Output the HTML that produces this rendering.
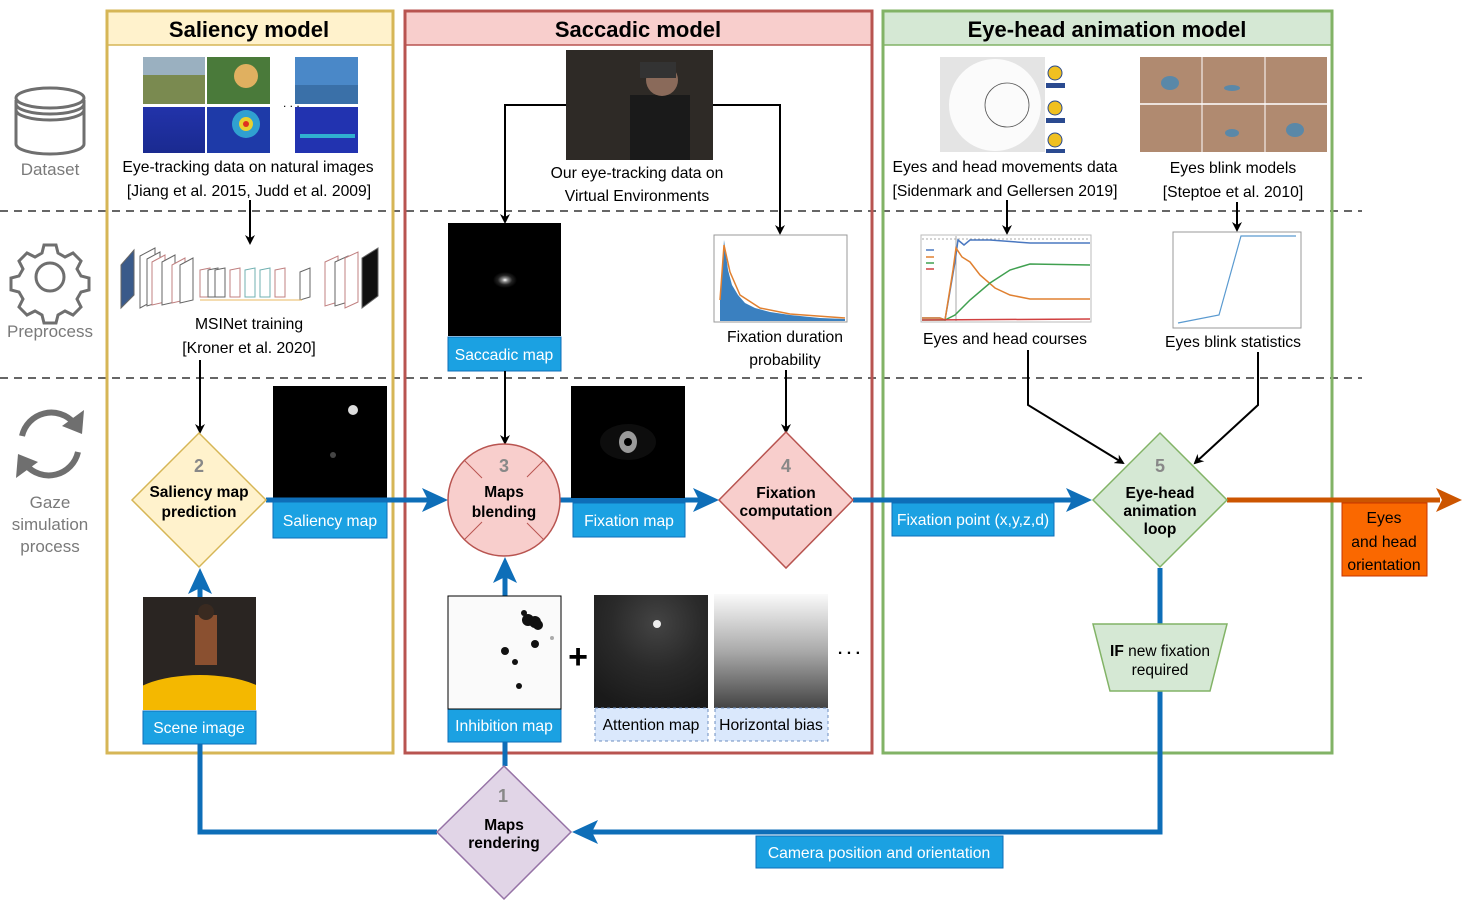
<!DOCTYPE html>
<html><head><meta charset="utf-8"><style>
html,body{margin:0;padding:0;background:#fff;}
svg{display:block;font-family:"Liberation Sans",Arial,sans-serif;}
</style></head><body>
<svg width="1470" height="902" viewBox="0 0 1470 902" xmlns="http://www.w3.org/2000/svg">
<defs>
<marker id="ab" markerWidth="10" markerHeight="10" refX="8" refY="5" orient="auto" markerUnits="userSpaceOnUse"><path d="M0,0 L10,5 L0,10 L3,5 Z" fill="#000"/></marker>
<radialGradient id="spot" cx="0.5" cy="0.5" r="0.5"><stop offset="0" stop-color="#fff"/><stop offset="0.25" stop-color="#888"/><stop offset="0.6" stop-color="#222"/><stop offset="1" stop-color="#000"/></radialGradient>
<radialGradient id="att" cx="0.55" cy="0.25" r="0.8"><stop offset="0" stop-color="#444"/><stop offset="0.5" stop-color="#2a2a2a"/><stop offset="1" stop-color="#1a1a1a"/></radialGradient>
<linearGradient id="hb" x1="0" y1="0" x2="0" y2="1"><stop offset="0" stop-color="#fafafa"/><stop offset="0.5" stop-color="#aaa"/><stop offset="1" stop-color="#444"/></linearGradient>
<linearGradient id="heat" x1="0" y1="0" x2="0" y2="1"><stop offset="0" stop-color="#2233aa"/><stop offset="1" stop-color="#1a2a90"/></linearGradient>
<clipPath id="sc"><rect x="143" y="597" width="113" height="113"/></clipPath>
</defs>

<line x1="0" y1="211" x2="1362" y2="211" stroke="#666" stroke-width="2" stroke-dasharray="8,6"/>
<line x1="0" y1="378" x2="1362" y2="378" stroke="#666" stroke-width="2" stroke-dasharray="8,6"/>

<rect x="107" y="11" width="286" height="742" fill="none" stroke="#d6b656" stroke-width="3"/>
<rect x="108.5" y="12.5" width="283" height="32" fill="#fff2cc"/>
<line x1="108" y1="45" x2="392" y2="45" stroke="#d6b656" stroke-width="1.5"/>
<text x="249" y="37" font-size="22" font-weight="bold" text-anchor="middle">Saliency model</text>

<rect x="405" y="11" width="467" height="742" fill="none" stroke="#b85450" stroke-width="3"/>
<rect x="406.5" y="12.5" width="464" height="32" fill="#f8cecc"/>
<line x1="406" y1="45" x2="871" y2="45" stroke="#b85450" stroke-width="1.5"/>
<text x="638" y="37" font-size="22" font-weight="bold" text-anchor="middle">Saccadic model</text>

<rect x="883" y="11" width="449" height="742" fill="none" stroke="#82b366" stroke-width="3"/>
<rect x="884.5" y="12.5" width="446" height="32" fill="#d5e8d4"/>
<line x1="884" y1="45" x2="1331" y2="45" stroke="#82b366" stroke-width="1.5"/>
<text x="1107" y="37" font-size="22" font-weight="bold" text-anchor="middle">Eye-head animation model</text>

<g fill="none" stroke="#6f6f6f" stroke-width="3">
<path d="M16,100 v44 a34,10 0 0 0 68,0 v-44"/>
<ellipse cx="50" cy="98" rx="34" ry="10"/>
<path d="M16,104 a34,10 0 0 0 68,0 M16,110 a34,10 0 0 0 68,0"/>
<circle cx="50" cy="277" r="14"/>
<path d="M44,245 h12 l2,8 l7,4 l8,-4 l8,8 l-4,8 l4,7 l8,2 v12 l-8,2 l-4,7 l4,8 l-8,8 l-8,-4 l-7,4 l-2,8 h-12 l-2,-8 l-7,-4 l-8,4 l-8,-8 l4,-8 l-4,-7 l-8,-2 v-12 l8,-2 l4,-7 l-4,-8 l8,-8 l8,4 l7,-4 z"/>
</g>
<g fill="none" stroke="#6f6f6f" stroke-width="6">
<path d="M22,436 A30,30 0 0 1 74,423"/>
<path d="M78,452 A30,30 0 0 1 26,465"/>
</g>
<path d="M84,410 L82,434 L62,426 Z" fill="#6f6f6f"/>
<path d="M16,478 L18,454 L38,462 Z" fill="#6f6f6f"/>
<g font-size="17" fill="#7a7a7a" text-anchor="middle">
<text x="50" y="175">Dataset</text>
<text x="50" y="337">Preprocess</text>
<text x="50" y="508">Gaze</text>
<text x="50" y="530">simulation</text>
<text x="50" y="552">process</text>
</g>

<rect x="143" y="57" width="62" height="47" fill="#7a8a50"/>
<rect x="143" y="57" width="62" height="18" fill="#9ab0c0"/>
<rect x="207" y="57" width="63" height="47" fill="#4a7a3a"/>
<circle cx="246" cy="76" r="12" fill="#e0b060"/>
<rect x="295" y="57" width="63" height="47" fill="#4a88c8"/>
<rect x="295" y="85" width="63" height="19" fill="#3a70a8"/>
<rect x="143" y="107" width="62" height="46" fill="url(#heat)"/>
<rect x="207" y="107" width="63" height="46" fill="#1e3aa8"/>
<circle cx="246" cy="124" r="14" fill="#30a0d0"/><circle cx="246" cy="124" r="7" fill="#e8d030"/><circle cx="246" cy="124" r="3" fill="#e03020"/>
<rect x="295" y="107" width="63" height="46" fill="#2233b0"/>
<rect x="300" y="134" width="55" height="4" fill="#30b0d0"/>
<text x="283" y="107" font-size="12">. . .</text>
<g font-size="15.7" text-anchor="middle">
<text x="248" y="172">Eye-tracking data on natural images</text>
<text x="249" y="196">[Jiang et al. 2015, Judd et al. 2009]</text>
<text x="249" y="329">MSINet training</text>
<text x="249" y="353">[Kroner et al. 2020]</text>
</g>
<line x1="250" y1="200" x2="250" y2="243" stroke="#000" stroke-width="2" marker-end="url(#ab)"/>
<g stroke="#666" stroke-width="1" fill="#fff">
<polygon points="121,265 134,250 134,295 121,308" fill="#3a5a8a"/>
<polygon points="140,256 155,248 155,300 140,308"/>
<polygon points="147,259 160,252 160,302 147,306"/>
<polygon points="152,262 165,255 165,302 152,305" stroke="#c08080"/>
<polygon points="162,262 175,255 175,302 162,305"/>
<polygon points="172,265 185,258 185,300 172,303" stroke="#c08080"/>
<polygon points="180,265 193,258 193,300 180,303"/>
<polygon points="200,270 210,268 210,297 200,297" stroke="#c08080"/>
<polygon points="208,270 218,268 218,297 208,297"/>
<polygon points="215,270 225,268 225,297 215,297"/>
<polygon points="230,270 240,268 240,297 230,297" stroke="#c08080"/>
<polygon points="245,270 255,268 255,297 245,297" stroke="#70b0b0"/>
<polygon points="260,270 270,268 270,297 260,297" stroke="#70b0b0"/>
<polygon points="275,270 285,268 285,297 275,297" stroke="#c08080"/>
<polygon points="300,272 310,268 310,297 300,300"/>
<polygon points="325,262 338,256 338,302 325,306" stroke="#c08080"/>
<polygon points="335,262 348,256 348,302 335,306"/>
<polygon points="345,258 358,252 358,302 345,308" stroke="#c08080"/>
<polygon points="362,258 378,248 378,296 362,308" fill="#111"/>
</g>
<line x1="200" y1="300" x2="302" y2="300" stroke="#e8b860" stroke-width="1"/>
<line x1="200" y1="360" x2="200" y2="432" stroke="#000" stroke-width="2" marker-end="url(#ab)"/>

<rect x="273" y="386" width="114" height="113" fill="#000"/>
<circle cx="353" cy="410" r="5" fill="#ddd"/><circle cx="333" cy="455" r="3" fill="#444"/>
<g clip-path="url(#sc)">
<rect x="143" y="597" width="113" height="113" fill="#2a2522"/>
<ellipse cx="200" cy="705" rx="75" ry="30" fill="#f4b800"/>
<rect x="195" y="615" width="22" height="50" fill="#8a5030"/>
<circle cx="206" cy="612" r="8" fill="#3a2a20"/>
</g>

<g stroke="#0e6eb8" stroke-width="5" fill="none">
<line x1="266" y1="500" x2="432" y2="500"/>
<line x1="560" y1="500" x2="705" y2="500"/>
<line x1="853" y1="500" x2="1078" y2="500"/>
<line x1="200" y1="597" x2="200" y2="583"/>
<line x1="505" y1="596" x2="505" y2="573"/>
<line x1="505" y1="742" x2="505" y2="766"/>
<polyline points="437,832 200,832 200,744"/>
<polyline points="1160,568 1160,624"/>
<polyline points="1160,691 1160,832 588,832"/>
</g>
<g fill="#0e6eb8">
<path d="M448,500 L422,488 L428,500 L422,512 Z"/>
<path d="M719,500 L693,488 L699,500 L693,512 Z"/>
<path d="M1092,500 L1066,488 L1072,500 L1066,512 Z"/>
<path d="M200,568 L188,594 L200,588 L212,594 Z"/>
<path d="M505,557 L493,583 L505,577 L517,583 Z"/>
<path d="M572,832 L598,820 L592,832 L598,844 Z"/>
</g>
<line x1="1227" y1="500" x2="1440" y2="500" stroke="#cc5500" stroke-width="5"/>
<path d="M1462,500 L1436,488 L1442,500 L1436,512 Z" fill="#cc5500"/>

<polygon points="199,433 266,500 199,567 132,500" fill="#fff2cc" stroke="#d6b656" stroke-width="1.5"/>
<text x="199" y="472" font-size="18" font-weight="bold" fill="#888" text-anchor="middle">2</text>
<text x="199" y="497" font-size="15.5" font-weight="bold" text-anchor="middle">Saliency map</text>
<text x="199" y="517" font-size="15.5" font-weight="bold" text-anchor="middle">prediction</text>

<g fill="#1ba1e2" stroke="#0e6eb8" stroke-width="1">
<rect x="273" y="502" width="114" height="36"/>
<rect x="143" y="711" width="113" height="33"/>
<rect x="448" y="337" width="113" height="34"/>
<rect x="573" y="503" width="112" height="34"/>
<rect x="448" y="709" width="113" height="33"/>
<rect x="892" y="503" width="162" height="33"/>
<rect x="756" y="836" width="247" height="32"/>
</g>
<g fill="#fff" font-size="15.7" text-anchor="middle">
<text x="330" y="526">Saliency map</text>
<text x="199" y="733">Scene image</text>
<text x="504" y="360">Saccadic map</text>
<text x="629" y="526">Fixation map</text>
<text x="504" y="731">Inhibition map</text>
<text x="973" y="525">Fixation point (x,y,z,d)</text>
<text x="879" y="858">Camera position and orientation</text>
</g>

<rect x="566" y="50" width="147" height="110" fill="#2e2a26"/>
<rect x="630" y="95" width="60" height="65" fill="#1a1a1a"/>
<circle cx="662" cy="80" r="16" fill="#8a6a5a"/>
<rect x="640" y="62" width="36" height="16" fill="#333"/>
<text x="637" y="178" font-size="15.7" text-anchor="middle">Our eye-tracking data on</text>
<text x="637" y="201" font-size="15.7" text-anchor="middle">Virtual Environments</text>
<polyline points="566,105 505,105 505,222" fill="none" stroke="#000" stroke-width="2" marker-end="url(#ab)"/>
<polyline points="713,105 780,105 780,233" fill="none" stroke="#000" stroke-width="2" marker-end="url(#ab)"/>
<rect x="448" y="223" width="113" height="113" fill="#000"/>
<ellipse cx="505" cy="280" rx="12" ry="8" fill="url(#spot)"/>
<rect x="714" y="235" width="133" height="87" fill="#fff" stroke="#999"/>
<path d="M720,321 L720,300 L724,240 L728,270 L732,285 L738,295 L745,303 L755,308 L770,312 L790,315 L820,318 L845,319 L845,321 Z" fill="#3a80c0"/>
<path d="M720,300 L724,245 L730,272 L740,295 L760,308 L790,314 L845,318" fill="none" stroke="#e08030" stroke-width="1.5"/>
<text x="785" y="342" font-size="15.7" text-anchor="middle">Fixation duration</text>
<text x="785" y="365" font-size="15.7" text-anchor="middle">probability</text>
<line x1="505" y1="371" x2="505" y2="443" stroke="#000" stroke-width="2" marker-end="url(#ab)"/>
<line x1="786" y1="370" x2="786" y2="432" stroke="#000" stroke-width="2" marker-end="url(#ab)"/>

<circle cx="504" cy="500" r="56" fill="#f8cecc" stroke="#b85450" stroke-width="1.5"/>
<g stroke="#b85450" stroke-width="1"><line x1="464" y1="460" x2="482" y2="478"/><line x1="544" y1="460" x2="527" y2="477"/><line x1="464" y1="540" x2="482" y2="522"/><line x1="544" y1="540" x2="527" y2="523"/></g>
<text x="504" y="472" font-size="18" font-weight="bold" fill="#888" text-anchor="middle">3</text>
<text x="504" y="497" font-size="15.5" font-weight="bold" text-anchor="middle">Maps</text>
<text x="504" y="517" font-size="15.5" font-weight="bold" text-anchor="middle">blending</text>

<rect x="571" y="386" width="114" height="112" fill="#000"/>
<ellipse cx="628" cy="442" rx="28" ry="18" fill="#0d0d0d"/>
<ellipse cx="628" cy="442" rx="9" ry="11" fill="#9a9a9a"/>
<circle cx="628" cy="442" r="4" fill="#000"/>
<polygon points="786,432 853,500 786,568 719,500" fill="#f8cecc" stroke="#b85450" stroke-width="1.5"/>
<text x="786" y="472" font-size="18" font-weight="bold" fill="#888" text-anchor="middle">4</text>
<text x="786" y="498" font-size="15.5" font-weight="bold" text-anchor="middle">Fixation</text>
<text x="786" y="516" font-size="15.5" font-weight="bold" text-anchor="middle">computation</text>

<rect x="448" y="596" width="113" height="113" fill="#fafafa" stroke="#000" stroke-width="1"/>
<g fill="#111"><circle cx="524" cy="613" r="3"/><circle cx="528" cy="620" r="6"/><circle cx="535" cy="622" r="6"/><circle cx="538" cy="625" r="5"/><circle cx="535" cy="644" r="4"/><circle cx="505" cy="651" r="4"/><circle cx="515" cy="662" r="3"/><circle cx="519" cy="686" r="3"/></g>
<circle cx="552" cy="638" r="2" fill="#aaa"/>
<text x="578" y="668" font-size="34" font-weight="bold" text-anchor="middle">+</text>
<rect x="594" y="595" width="114" height="113" fill="url(#att)"/>
<circle cx="657" cy="624" r="4" fill="#eee"/>
<rect x="714" y="594" width="114" height="114" fill="url(#hb)"/>
<text x="849" y="654" font-size="16" font-weight="bold" text-anchor="middle">. . .</text>
<g fill="#dae8fc" stroke="#6c8ebf" stroke-width="1" stroke-dasharray="3,3">
<rect x="595" y="708" width="113" height="33"/>
<rect x="715" y="708" width="113" height="33"/>
</g>
<text x="651" y="730" font-size="15.7" text-anchor="middle">Attention map</text>
<text x="771" y="730" font-size="15.7" text-anchor="middle">Horizontal bias</text>

<polygon points="504,766 571,832 504,899 437,832" fill="#e1d5e7" stroke="#9673a6" stroke-width="1.5"/>
<text x="503" y="802" font-size="18" font-weight="bold" fill="#888" text-anchor="middle">1</text>
<text x="504" y="830" font-size="15.5" font-weight="bold" text-anchor="middle">Maps</text>
<text x="504" y="848" font-size="15.5" font-weight="bold" text-anchor="middle">rendering</text>

<rect x="940" y="57" width="105" height="95" fill="#e4e4e4"/>
<circle cx="995" cy="105" r="46" fill="#fbfbfb"/>
<circle cx="1007" cy="105" r="22" fill="none" stroke="#555" stroke-width="0.8"/>
<g fill="#f0c020" stroke="#2a4a90" stroke-width="1">
<circle cx="1055" cy="73" r="7"/><circle cx="1055" cy="108" r="7"/><circle cx="1055" cy="140" r="7"/>
</g>
<g fill="#2a4a90"><rect x="1046" y="83" width="19" height="5"/><rect x="1046" y="118" width="19" height="5"/><rect x="1046" y="149" width="19" height="4"/></g>
<rect x="1140" y="57" width="187" height="95" fill="#b08a70"/>
<line x1="1140" y1="104" x2="1327" y2="104" stroke="#fff" stroke-width="1.5"/>
<line x1="1202" y1="57" x2="1202" y2="152" stroke="#fff" stroke-width="1"/>
<line x1="1265" y1="57" x2="1265" y2="152" stroke="#fff" stroke-width="1"/>
<g fill="#5a88a8"><ellipse cx="1170" cy="83" rx="9" ry="7"/><ellipse cx="1232" cy="88" rx="8" ry="3"/><ellipse cx="1232" cy="133" rx="7" ry="4"/><ellipse cx="1295" cy="130" rx="9" ry="7"/></g>
<g font-size="15.7" text-anchor="middle">
<text x="1005" y="172">Eyes and head movements data</text>
<text x="1005" y="196">[Sidenmark and Gellersen 2019]</text>
<text x="1233" y="173">Eyes blink models</text>
<text x="1233" y="197">[Steptoe et al. 2010]</text>
<text x="1005" y="344">Eyes and head courses</text>
<text x="1233" y="347">Eyes blink statistics</text>
</g>
<line x1="1007" y1="200" x2="1007" y2="233" stroke="#000" stroke-width="2" marker-end="url(#ab)"/>
<line x1="1237" y1="202" x2="1237" y2="230" stroke="#000" stroke-width="2" marker-end="url(#ab)"/>
<rect x="921" y="235" width="170" height="87" fill="#fff" stroke="#bbb"/>
<line x1="922" y1="239" x2="1090" y2="239" stroke="#aaa" stroke-dasharray="2,2"/>
<line x1="956" y1="236" x2="956" y2="321" stroke="#aaa"/>
<polyline points="922,318 940,318 945,320 955,262 958,240 964,245 970,240 990,240 1030,243 1090,243" fill="none" stroke="#4a78c0" stroke-width="1.5"/>
<polyline points="922,318 940,318 945,320 953,270 956,248 962,257 970,262 980,275 995,288 1010,295 1030,299 1090,299" fill="none" stroke="#e08030" stroke-width="1.5"/>
<polyline points="922,320 945,320 955,315 970,300 990,283 1010,270 1030,264 1090,265" fill="none" stroke="#40a050" stroke-width="1.5"/>
<line x1="922" y1="320" x2="1090" y2="319" stroke="#d04040" stroke-width="1.5"/>
<g stroke-width="1.5"><line x1="926" y1="250" x2="934" y2="250" stroke="#4a78c0"/><line x1="926" y1="257" x2="934" y2="257" stroke="#e08030"/><line x1="926" y1="263" x2="934" y2="263" stroke="#40a050"/><line x1="926" y1="269" x2="934" y2="269" stroke="#d04040"/></g>
<rect x="1173" y="232" width="128" height="96" fill="#fff" stroke="#999"/>
<polyline points="1178,323 1219,315 1241,236 1296,236" fill="none" stroke="#5a9ad0" stroke-width="1.2"/>
<polyline points="1028,350 1028,405 1123,463" fill="none" stroke="#000" stroke-width="2" marker-end="url(#ab)"/>
<polyline points="1258,352 1258,405 1195,463" fill="none" stroke="#000" stroke-width="2" marker-end="url(#ab)"/>
<polygon points="1160,433 1227,500 1160,567 1093,500" fill="#d5e8d4" stroke="#82b366" stroke-width="1.5"/>
<text x="1160" y="472" font-size="18" font-weight="bold" fill="#888" text-anchor="middle">5</text>
<text x="1160" y="498" font-size="15.5" font-weight="bold" text-anchor="middle">Eye-head</text>
<text x="1160" y="516" font-size="15.5" font-weight="bold" text-anchor="middle">animation</text>
<text x="1160" y="534" font-size="15.5" font-weight="bold" text-anchor="middle">loop</text>
<polygon points="1093,624 1227,624 1210,691 1110,691" fill="#d5e8d4" stroke="#82b366" stroke-width="1.5"/>
<text x="1160" y="656" font-size="15.5" text-anchor="middle"><tspan font-weight="bold">IF</tspan> new fixation</text>
<text x="1160" y="675" font-size="15.5" text-anchor="middle">required</text>
<rect x="1342" y="503" width="85" height="73" fill="#fa6800" stroke="#c73500" stroke-width="1"/>
<g font-size="15.7" text-anchor="middle"><text x="1384" y="523">Eyes</text><text x="1384" y="547">and head</text><text x="1384" y="570">orientation</text></g>
</svg>
</body></html>
